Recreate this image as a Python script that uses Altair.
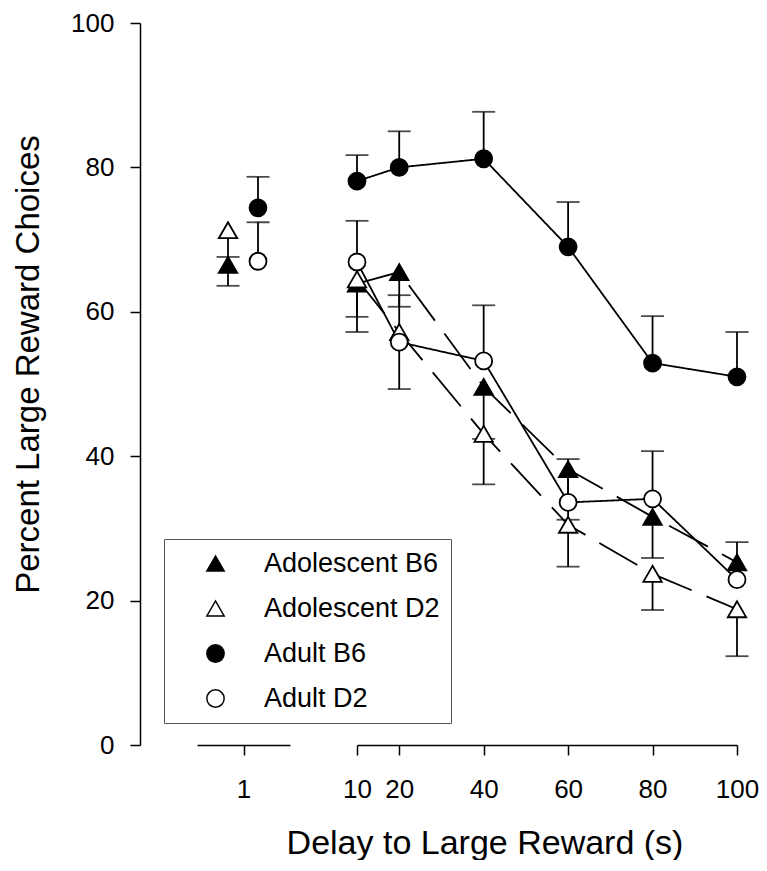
import altair as alt
import pandas as pd

# ---------------- data ----------------
delays = [1, 10, 20, 40, 60, 80, 100]
groups = ["Adolescent B6", "Adolescent D2", "Adult B6", "Adult D2"]
group_age = ["Adolescent", "Adolescent", "Adult", "Adult"]

adol_b6_mean = [66.5, 63.9, 65.5, 49.6, 38.2, 31.6, 25.3]
adol_b6_err = [63.6, 59.3, 60.7, 42.4, 31.2, 25.9, 28.1]
adol_d2_mean = [71.3, 64.5, 57.2, 43.1, 30.5, 23.7, 18.8]
adol_d2_err = [67.6, 57.2, 62.3, 36.1, 24.7, 18.7, 12.3]
adult_b6_mean = [74.4, 78.1, 80.0, 81.2, 69.0, 52.9, 51.0]
adult_b6_err = [78.7, 81.7, 85.0, 87.7, 75.2, 59.4, 57.2]
adult_d2_mean = [67.0, 66.9, 55.8, 53.2, 33.6, 34.1, 22.9]
adult_d2_err = [72.4, 72.6, 49.3, 60.9, 39.6, 40.7, 22.9]

main_ticks = [10, 20, 40, 60, 80, 100]
y_ticks = [0, 20, 40, 60, 80, 100]

series_means = [adol_b6_mean, adol_d2_mean, adult_b6_mean, adult_d2_mean]
series_errs = [adol_b6_err, adol_d2_err, adult_b6_err, adult_d2_err]

rows = []
for g, a, ms, es in zip(groups, group_age, series_means, series_errs):
    for d, m, e in zip(delays, ms, es):
        rows.append({"group": g, "age": a, "delay": d, "mean": m, "err": e})
df = pd.DataFrame(rows)

FONT = "Liberation Sans"

# ---------------- scales ----------------
shape_scale = alt.Scale(domain=groups, range=["triangle-up", "triangle-up", "circle", "circle"])
fill_scale = alt.Scale(domain=groups, range=["black", "white", "black", "white"])
stroke_scale = alt.Scale(domain=groups, range=["black", "black", "black", "black"])
dash_scale = alt.Scale(domain=["Adolescent", "Adult"], range=[[44, 16], [1, 0]])
y_scale = alt.Scale(domain=[0, 100], nice=False, zero=False)

Y_TITLE = "Percent Large Reward Choices"

left_y_axis = alt.Axis(
    values=y_ticks, offset=57, tickSize=10, labelFontSize=26, labelPadding=16,
    labelFont=FONT, titleFont=FONT, titleFontSize=33, titleFontWeight="normal",
    titleBaseline="alphabetic", titleAngle=-90, titleAlign="center",
    titleX=-102, titleY=341, grid=False,
)

legend = alt.Legend(
    title=None, orient="none", legendX=-33, legendY=516,
    labelFontSize=27, labelFont=FONT, labelColor="black", labelLimit=500,
    symbolSize=300, symbolStrokeColor="black", symbolStrokeWidth=1.5,
    symbolOffset=27, labelOffset=35, padding=11, rowPadding=17,
    strokeColor="#555555", fillColor="white",
)


def panel(data, x_field, x_scale, x_axis, y_axis, width, lines, show_legend):
    base = alt.Chart(data)

    def X(field=x_field):
        return alt.X(field, scale=x_scale, axis=x_axis, title=x_axis.title if x_axis is not None else None)

    def Yenc(field):
        return alt.Y(field, scale=y_scale, axis=y_axis, title=Y_TITLE)

    errs = "datum.err != datum.mean"
    rules = base.transform_filter(errs).mark_rule(color="black", strokeWidth=1.8).encode(
        x=X(), y=Yenc("mean:Q"), y2="err:Q"
    )
    caps = base.transform_filter(errs).mark_tick(
        color="black", orient="horizontal", size=23, thickness=1.8
    ).encode(x=X(), y=Yenc("err:Q"))

    leg = legend if show_legend else None

    def sym(age, size):
        return base.transform_filter(f"datum.age == '{age}'").mark_point(
            filled=False, fillOpacity=1, opacity=1, strokeWidth=1.8, size=size
        ).encode(
            x=X(), y=Yenc("mean:Q"),
            shape=alt.Shape("group:N", scale=shape_scale, legend=leg),
            fill=alt.Fill("group:N", scale=fill_scale, legend=leg),
            stroke=alt.Stroke("group:N", scale=stroke_scale, legend=leg),
        )

    layers = []
    if lines:
        layers.append(
            base.mark_line(color="black", strokeWidth=1.8).encode(
                x=X(), y=Yenc("mean:Q"), detail="group:N",
                strokeDash=alt.StrokeDash("age:N", scale=dash_scale, legend=None),
            )
        )
    layers += [rules, caps, sym("Adolescent", 340), sym("Adult", 289)]
    return alt.layer(*layers).properties(width=width, height=722)


# left "1" segment of the broken axis
left_df = df[df["delay"] == 1]
left_x_axis = alt.Axis(
    values=[1], tickSize=10, labelFontSize=26, labelFont=FONT, labelPadding=21,
    labelFlush=False, grid=False, title=None,
)
left = panel(
    left_df,
    "pos:Q",
    alt.Scale(domain=[0, 2], nice=False, zero=False),
    left_x_axis, left_y_axis, 93, False, True,
).transform_calculate(pos="datum.delay + (datum.age == 'Adolescent' ? -0.333 : 0.312)")

right_df = df[df["delay"] >= 10]
right_x_axis = alt.Axis(
    values=main_ticks, tickSize=10, labelFontSize=26, labelFont=FONT, labelPadding=21,
    labelFlush=False, grid=False, title="Delay to Large Reward (s)", titleFont=FONT,
    titleFontSize=34, titleFontWeight="normal", titleBaseline="alphabetic",
    titleX=127.5, titleY=108,
)
right = panel(
    right_df,
    "delay:Q",
    alt.Scale(domain=[10, 100], nice=False, zero=False),
    right_x_axis, None, 380, True, False,
)

chart = (
    alt.hconcat(left, right, spacing=67)
    .properties(bounds="flush", padding={"left": 4, "top": 2, "right": 0, "bottom": 0})
    .resolve_scale(shape="independent", fill="independent", stroke="independent",
                   strokeDash="independent", x="independent")
    .resolve_legend(shape="independent", fill="independent", stroke="independent")
    .configure_view(stroke=None)
    .configure_axis(
        domainColor="black", tickColor="black", labelColor="black", titleColor="black",
        domainWidth=1.5, tickWidth=1.5,
    )
)

chart.save("out.html", embed_options={"renderer": "svg", "actions": False})
